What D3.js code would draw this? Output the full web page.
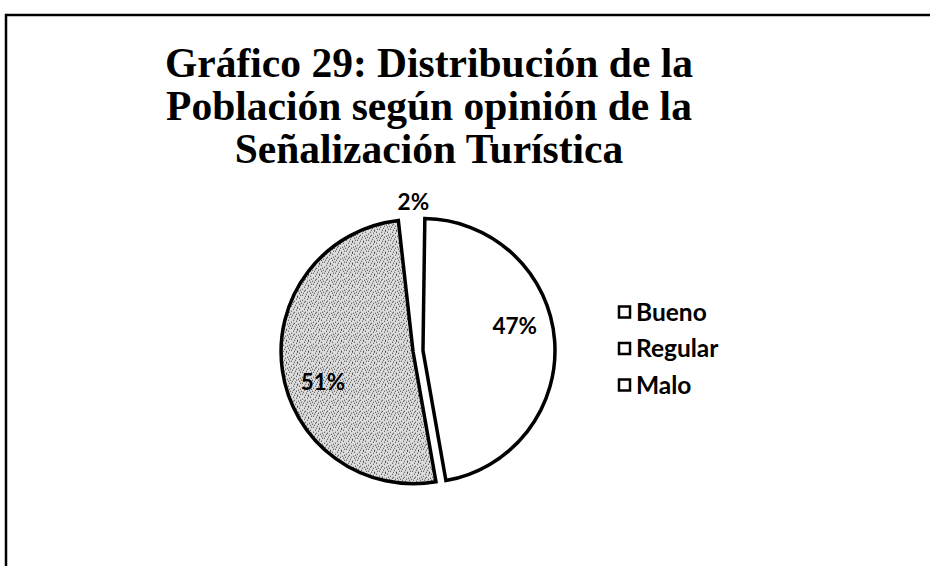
<!DOCTYPE html>
<html>

<head>
  <meta charset="utf-8">
  <script src="https://d3js.org/d3.v7.min.js"></script>
  <style>
    body {
      margin: 0;
      background: #fff;
    }

    svg {
      display: block;
    }
  </style>
</head>

<body>
  <svg width="930" height="566"></svg>
</body>
<script>

  var titleLines = ['Gráfico 29: Distribución de la', 'Población según opinión de la', 'Señalización Turística'];
  var categories = ['Bueno', 'Regular', 'Malo'];
  var values = [47, 2, 51];
  var labels = ['47%', '2%', '51%'];

  var svg = d3.select("svg"),
    width = +svg.attr("width"),
    height = +svg.attr("height");

  var cx = 418, cy = 351, radius = 132, explode = 5;
  var deg = Math.PI / 180;

  // stipple fill for "Malo"
  var defs = svg.append("defs");
  var pat = defs.append("pattern")
    .attr("id", "stipple")
    .attr("patternUnits", "userSpaceOnUse")
    .attr("width", 11).attr("height", 11);
  pat.append("rect").attr("width", 11).attr("height", 11).attr("fill", "#dcdcdc");
  [[1, 1], [4, 2], [7, 1], [10, 3], [2, 4], [6, 5], [9, 6], [5, 0], [0, 7], [3, 8], [8, 9], [5, 10],
   [1, 5], [7, 7], [10, 9], [4, 6], [2, 10], [8, 4]].forEach(function (p) {
    pat.append("rect").attr("x", p[0]).attr("y", p[1]).attr("width", 1).attr("height", 1).attr("fill", "#3a3a3a");
  });

  // chart frame (open at right and bottom)
  svg.append("path")
    .attr("d", "M6," + height + "V15H" + width)
    .attr("fill", "none")
    .attr("stroke", "#000")
    .attr("stroke-width", 2.5);

  // title
  svg.append("g").selectAll("text")
    .data(titleLines)
    .enter().append("text")
    .attr("x", 429)
    .attr("y", function (d, i) { return 77 + i * 43; })
    .attr("text-anchor", "middle")
    .attr("font-family", "'Liberation Serif', 'Times New Roman', serif")
    .attr("font-weight", "bold")
    .attr("font-size", 41.5)
    .text(function (d) { return d; });

  var fills = d3.scaleOrdinal().domain(categories).range(["#fff", "#fff", "url(#stipple)"]);
  var strokes = d3.scaleOrdinal().domain(categories).range(["#000", "none", "#000"]);

  // counterclockwise from the bottom, as in the source chart
  var pie = d3.pie().sort(null).value(function (d) { return d.value; })
    .startAngle(170 * deg).endAngle(170 * deg - 2 * Math.PI);
  var data = categories.map(function (c, i) { return { name: c, value: values[i], label: labels[i] }; });
  var arcs = pie(data);
  var arc = d3.arc().innerRadius(0).outerRadius(radius);

  function mid(d) { return (d.startAngle + d.endAngle) / 2; }

  var g = svg.append("g").attr("transform", "translate(" + cx + "," + cy + ")");

  g.selectAll(".slice")
    .data(arcs)
    .enter().append("path")
    .attr("class", "slice")
    .attr("d", arc)
    .attr("transform", function (d) {
      var a = mid(d);
      return "translate(" + (explode * Math.sin(a)) + "," + (-explode * Math.cos(a)) + ")";
    })
    .attr("fill", function (d) { return fills(d.data.name); })
    .attr("stroke", function (d) { return strokes(d.data.name); })
    .attr("stroke-width", 3.5)
    .attr("stroke-linejoin", "miter");

  // data labels
  function labelPos(d) {
    var small = d.value < 5,
      a = small ? mid(d) + 1 * deg : mid(d) - 10 * deg,
      r = small ? radius + 17 : 100;
    return [r * Math.sin(a), -r * Math.cos(a)];
  }
  g.selectAll(".lbl")
    .data(arcs)
    .enter().append("text")
    .attr("class", "lbl")
    .attr("text-anchor", "middle")
    .attr("dy", "0.35em")
    .attr("font-family", "Lato, 'Open Sans', sans-serif")
    .attr("font-weight", "bold")
    .attr("font-size", 22.5)
    .attr("x", function (d) { return labelPos(d)[0]; })
    .attr("y", function (d) { return labelPos(d)[1]; })
    .text(function (d) { return d.data.label; });

  // legend
  var legend = svg.append("g").attr("transform", "translate(619,312)");
  var item = legend.selectAll(".item")
    .data(categories)
    .enter().append("g")
    .attr("class", "item")
    .attr("transform", function (d, i) { return "translate(0," + (i * 36.5) + ")"; });
  item.append("rect")
    .attr("x", 0).attr("y", -5.5)
    .attr("width", 11).attr("height", 11)
    .attr("fill", "#fff")
    .attr("stroke", "#000")
    .attr("stroke-width", 2.5);
  item.append("text")
    .attr("x", 17)
    .attr("dy", "0.35em")
    .attr("font-family", "Lato, 'Open Sans', sans-serif")
    .attr("font-weight", "bold")
    .attr("font-size", 24.5)
    .text(function (d) { return d; });

</script>

</html>
